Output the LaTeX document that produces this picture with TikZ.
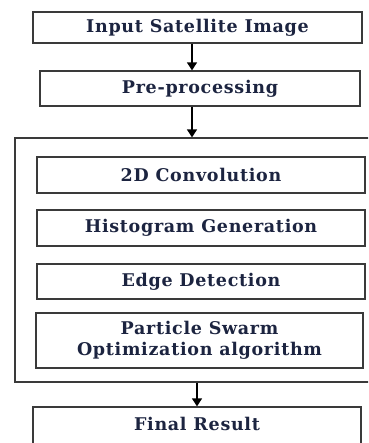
\documentclass[tikz,border=0pt]{standalone}
\usepackage{fontspec}
\setmainfont{DejaVu Serif}[LetterSpace=4]
\usetikzlibrary{arrows.meta}
\definecolor{boxline}{HTML}{3A3A3A}
\definecolor{labelink}{HTML}{1C2440}
\tikzset{
  stage/.style={draw=boxline, line width=1.3pt, rectangle, inner sep=0pt,
    font=\bfseries\fontsize{17.5}{21}\selectfont, text=labelink, align=center},
  group/.style={draw=boxline, line width=1.3pt, rectangle, inner sep=0pt},
  flow/.style={line width=1.5pt, black, -{Triangle[length=8pt,width=10pt]}}
}
\begin{document}
\begin{tikzpicture}[x=1pt, y=-1pt]
  \clip (0,0) rectangle (368,443);
  \fill[white] (0,0) rectangle (368,443);
  % top stages
  \node[stage, minimum width=329pt, minimum height=31pt] (in) at (197.5,27.5) {Input Satellite Image};
  \node[stage, minimum width=320pt, minimum height=35pt] (pre) at (200,88.5) {Pre-processing};
  % enclosing processing block
  \node[group, minimum width=370pt, minimum height=244pt] (grp) at (200,260) {};
  \node[stage, minimum width=328pt, minimum height=36pt] (conv) at (201,175) {2D Convolution};
  \node[stage, minimum width=328pt, minimum height=36pt] (hist) at (201,228) {Histogram Generation};
  \node[stage, minimum width=328pt, minimum height=35pt] (edge) at (201,281.5) {Edge Detection};
  \node[stage, minimum width=327pt, minimum height=55pt] (pso) at (199.5,340.5) {Particle Swarm\\Optimization algorithm};
  % output box, running past the lower edge of the page
  \node[stage, minimum width=328pt, minimum height=40pt] (out) at (197,427) {};
  \node[stage, draw=none] (outlbl) at (197,424) {Final Result};
  % connectors
  \coordinate (ax) at (192,0);
  \coordinate (bx) at (197,0);
  \draw[flow] (in.south -| ax) -- (pre.north -| ax);
  \draw[flow] (pre.south -| ax) -- (grp.north -| ax);
  \draw[flow] (grp.south -| bx) -- (out.north -| bx);
\end{tikzpicture}
\end{document}
